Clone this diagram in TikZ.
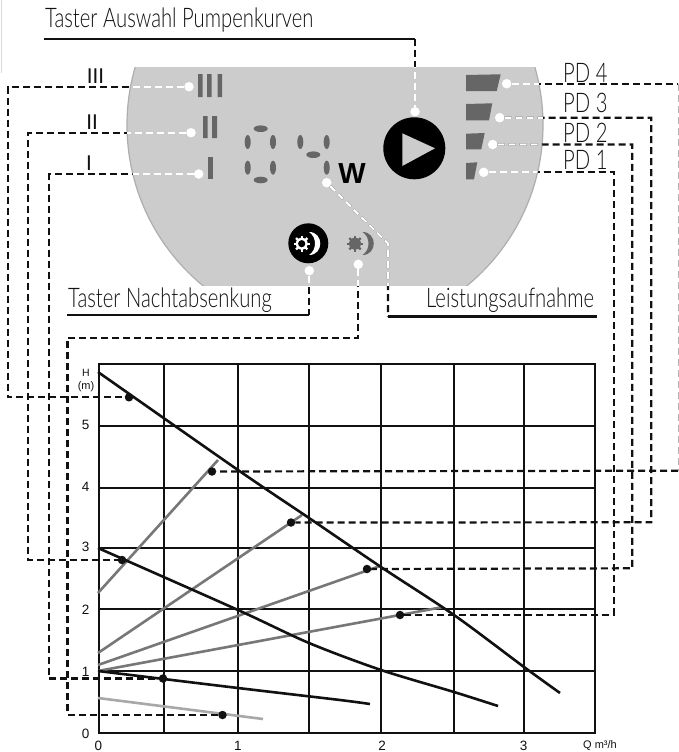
\documentclass[tikz,border=0pt]{standalone}
\usepackage{fontspec}
\setmainfont{Liberation Sans}
\newfontfamily\lab[FakeStretch=0.75]{Lato Light}
\newfontfamily\labr{Lato}
\definecolor{panel}{HTML}{CCCCCC}
\definecolor{icon}{HTML}{666666}
\definecolor{rim}{HTML}{AEAEAE}
\definecolor{curveg}{HTML}{777777}
\definecolor{curvel}{HTML}{A8A8A8}
\definecolor{ink}{HTML}{111111}
\definecolor{labelc}{HTML}{111111}
\newcommand\panelshape{(335,125) circle (208)}
\newcommand\leaderset[1]{%
  \draw[#1] (dIII) -- (aIII) -- (bIII) -- (pIII);
  \draw[#1] (dII) -- (aII) -- (bII) -- (pII);
  \draw[#1] (dI) -- (aI) -- (bI) -- (pI);
  \draw[#1] (dMoonB) -- (aMoonB) -- (bMoonB) -- (cMoonB) -- (pMoonB);
  \draw[#1] (dPDd) -- (aPDd);
  \draw[#1] (bPDd) -- (pPDd);
  \draw[#1] (dPDc) -- (aPDc) -- (bPDc) -- (pPDc);
  \draw[#1] (dPDb) -- (aPDb) -- (bPDb) -- (pPDb);
  \draw[#1] (dPDa) -- (aPDa) -- (bPDa) -- (pPDa);
  \draw[#1] (tB) -- (dPlay);
  \draw[#1] (dMoonA) -- (nA);
  \draw[#1] (dWatt) -- (wA) -- (wB);
}
% moon icon: gear centre x, moon start x, gear colour, centre colour, moon colour
\newcommand\moonicon[5]{%
  \foreach \ang in {0,45,...,315}
    \draw[line width=2.3pt,#3] (#1,243.7) -- ++(\ang:8);
  \fill[#3] (#1,243.7) circle (6);
  \fill[#4] (#1,243.7) circle (3.6);
  \fill[#5] (#2,232) .. controls (#2+15,232) and (#2+15,255) .. (#2,255)
     .. controls (#2+8,250) and (#2+8,237) .. (#2,232) -- cycle;
}
\tikzset{
  wdot/.style={circle,fill=white,inner sep=0pt,minimum size=9.5pt},
  kdot/.style={circle,fill=ink,inner sep=0pt,minimum size=8.5pt},
  leaderk/.style={ink,line width=2.2pt,dash pattern=on 7pt off 4pt},
  leaderw/.style={white,line width=2.2pt,dash pattern=on 7pt off 4pt},
  lead/.style={ink,line width=2.3pt},
  title/.style={font=\lab\fontsize{27}{27}\selectfont,text=labelc,anchor=base west,inner sep=0pt},
  roman/.style={font=\labr\fontsize{20.5}{20.5}\selectfont,text=labelc,anchor=base,inner sep=0pt},
  pdl/.style={font=\lab\fontsize{27}{27}\selectfont,text=labelc,anchor=base west,inner sep=0pt},
  axisl/.style={font=\fontsize{13.5}{13.5}\selectfont,text=labelc,inner sep=0pt},
  axiss/.style={font=\fontsize{11}{11}\selectfont,text=labelc,inner sep=0pt},
  seg/.style={fill=icon},
  gridl/.style={ink,line width=1.6pt},
  blackc/.style={ink,line width=2.6pt},
  grayc/.style={curveg,line width=2.6pt},
  lightc/.style={curvel,line width=2.6pt},
}
\begin{document}
\begin{tikzpicture}[x=1pt,y=-1pt]
\useasboundingbox (0,0) rectangle (679,752);
\fill[white] (0,0) rectangle (679,752);
\draw[black!15,line width=.8pt] (1.3,0) -- (1.3,73);

% panel
\begin{scope}
  \clip (0,68) rectangle (679,285);
  \fill[panel] \panelshape;
  \draw[rim,line width=1.2pt] \panelshape;
\end{scope}

% roman bars
\fill[icon] (198,74) rectangle (202.5,97) (207,74) rectangle (211.5,97) (217.5,74) rectangle (222,97);
\fill[icon] (203,116) rectangle (207.5,138) (212,116) rectangle (217,138);
\fill[icon] (207.5,157) rectangle (212.5,179);

% digits
\foreach \p in {(260.7,128.7),(260.7,180),(313.3,154.7)}
  \fill[seg] \p ellipse (7 and 3.3);
\foreach \p in {(247.7,142),(273,142),(247.7,167.7),(273,167.7),(300.3,142),(326.7,142),(326.7,167.7)}
  \fill[seg] \p ellipse (3 and 7);
\node[font=\bfseries\fontsize{29}{29}\selectfont,text=black,anchor=base,inner sep=0pt] (watt) at (352,183) {W};

% play button
\fill[black] (414.3,148.3) circle (31);
\fill[panel] (402.3,133.3) -- (435,148.3) -- (402.3,166) -- cycle;

% PD bars
\fill[icon] (466,75) -- (500.7,74.3) -- (496.7,91) -- (466,91) -- cycle;
\fill[icon] (466,104) -- (492.3,103.3) -- (489,120.3) -- (466,120.3) -- cycle;
\fill[icon] (466,133.7) -- (484.7,133) -- (481.3,149.3) -- (466,149.3) -- cycle;
\fill[icon] (466,163) -- (477.3,162.3) -- (474,179.3) -- (466,179.3) -- cycle;

% night icons
\fill[black] (308.3,243.3) circle (20);
\moonicon{301.7}{309}{white}{black}{white}
\moonicon{355}{362.5}{icon}{icon}{icon}

% chart grid
\foreach \x in {164,238,309,381,454,524}
  \draw[gridl] (\x,363.7) -- (\x,733);
\foreach \y in {425.7,488,548,609,671}
  \draw[gridl] (98.5,\y) -- (595,\y);
\draw[ink,line width=2pt] (98.5,363.7) rectangle (595,733);

% curves
\draw[lightc] (98,698) -- (263,719);
\draw[grayc] (98,593) -- (218,460);
\draw[grayc] (98,653) -- (302,515);
\draw[grayc] (98,665) -- (380,566);
\draw[grayc] (98,671) -- (443,607);
\draw[blackc] plot[smooth] coordinates {(98,372) (238,470) (309,518) (381,567) (454,615) (524,667) (560,693)};
\draw[blackc] plot[smooth] coordinates {(98,548) (238,610) (309,643) (381,670) (454,692) (498,706)};
\draw[blackc] plot[smooth] coordinates {(98,671) (238,688) (340,700) (370,704)};

% end dots
\node[wdot] (dIII) at (189,86.7) {};
\node[wdot] (dII) at (191,132.7) {};
\node[wdot] (dI) at (198.7,174) {};
\node[wdot] (dMoonA) at (309.3,270.7) {};
\node[wdot] (dMoonB) at (358.3,264.3) {};
\node[wdot] (dWatt) at (326.7,182.7) {};
\node[wdot] (dPlay) at (415,111.7) {};
\node[wdot] (dPDd) at (506.7,83.7) {};
\node[wdot] (dPDc) at (499.7,117.7) {};
\node[wdot] (dPDb) at (492.7,144.5) {};
\node[wdot] (dPDa) at (483.7,172.3) {};
\node[kdot] (pIII) at (129,397.3) {};
\node[kdot] (pII) at (122,560) {};
\node[kdot] (pI) at (163,678.5) {};
\node[kdot] (pMoonB) at (222.5,715) {};
\node[kdot] (pPDd) at (212,471.5) {};
\node[kdot] (pPDc) at (291,522.5) {};
\node[kdot] (pPDb) at (367,569) {};
\node[kdot] (pPDa) at (400,615) {};

% corners
\coordinate (aIII) at (8,86.7);   \coordinate (bIII) at (8,397.3);
\coordinate (aII) at (28,132.7);  \coordinate (bII) at (28,560);
\coordinate (aI) at (49.3,174);   \coordinate (bI) at (49.3,678.5);
\coordinate (aMoonB) at (358.3,338); \coordinate (bMoonB) at (67.5,338); \coordinate (cMoonB) at (67.5,715);
\coordinate (aPDd) at (678,83.7); \coordinate (bPDd) at (678,470.7);
\coordinate (aPDc) at (651.3,117.7); \coordinate (bPDc) at (651.3,522.3);
\coordinate (aPDb) at (632.3,144.5); \coordinate (bPDb) at (632.3,568.3);
\coordinate (aPDa) at (613.7,172.3); \coordinate (bPDa) at (613.7,615);
\coordinate (tA) at (44,39.3); \coordinate (tB) at (415,39.3);
\coordinate (nA) at (309.3,315.3); \coordinate (nB) at (67.3,315.3);
\coordinate (wA) at (388,243.5); \coordinate (wB) at (388,316.5); \coordinate (wC) at (597,316.5);

% leaders
\leaderset{leaderk}
\draw[black!30,line width=1pt,dash pattern=on 7pt off 4pt] (aPDd) -- (bPDd);
\begin{scope}
  \clip (0,68) rectangle (679,285);
  \clip \panelshape;
  \leaderset{leaderw}
\end{scope}
\draw[lead] (tA) -- (tB);
\draw[lead] (nA) -- (nB);
\draw[lead] (wB) -- (wC);

% labels
\node[title] (tAusw) at (45,28) {Taster Auswahl Pumpenkurven};
\node[title] (tNacht) at (68,307) {Taster Nachtabsenkung};
\node[title] (tLeist) at (426,307) {Leistungsaufnahme};
\node[roman] (rIII) at (95.5,83) {III};
\node[roman] (rII) at (92,129) {II};
\node[roman] (rI) at (89,170) {I};
\node[pdl] (lPDd) at (563,82) {PD 4};
\node[pdl] (lPDc) at (563,112) {PD 3};
\node[pdl] (lPDb) at (563,142) {PD 2};
\node[pdl] (lPDa) at (563,169) {PD 1};

\node[axisl] (yH) at (86,373) {\fontsize{10.5}{10.5}\selectfont H};
\node[axiss] (yM) at (86,387) {(m)};
\node[axisl] (y5) at (85.7,425) {5};
\node[axisl] (y4) at (85.7,487) {4};
\node[axisl] (y3) at (85.7,547) {3};
\node[axisl] (y2) at (85.7,610) {2};
\node[axisl] (y1) at (85.7,672) {1};
\node[axisl] (y0) at (85.7,734) {0};
\node[axisl] (x0) at (98.3,745.5) {0};
\node[axisl] (x1) at (238,745.5) {1};
\node[axisl] (x2) at (382,745.5) {2};
\node[axisl] (x3) at (523.7,745.5) {3};
\node[axiss] (xQ) at (600,745.5) {Q m³/h};
\end{tikzpicture}
\end{document}
